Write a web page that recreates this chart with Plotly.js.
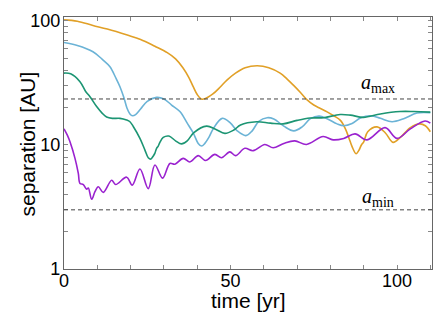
<!DOCTYPE html>
<html>
<head>
<meta charset="utf-8">
<script src="https://cdn.plot.ly/plotly-3.0.1.min.js"></script>
<style>html,body{margin:0;padding:0;background:#fff;}#chart{width:436px;height:318px;}</style>
</head>
<body>
<div id="chart"></div>
<script>
// Orange series
const tOrange = [0,4,8.7,13,19,23,27.3,31,33.5,35.7,37.5,38.8,40,41.2,42.3,44.7,47,49,51.5,54.4,58,61.5,64.9,67,68.8,71,73,75,77,79,81,83,84.5,85.5,86.5,87.7,88.5,89.3,90,91.2,94,96.5,98.8,101,104,106.8,108.5,110];
const aOrange = [102,99.5,92,86,77,71,62.5,55.5,49.5,42,35,29.5,25.5,23.5,23.6,25.8,29.5,33.5,38,42,43.5,42,38,34,30.5,26.5,23.1,21,19.7,18.5,17.2,15.8,13.5,11.5,9.7,8.5,9.0,10.0,10.6,12.8,14.0,12.5,10.5,11.5,13.8,14.8,14.3,12.8];
// Blue series
const tBlue = [0,4,8.7,11.5,13.8,15.5,16.8,18,18.9,19.8,20.6,21.5,23,25,27.8,30,32.3,34.8,37,38.8,40.3,41.3,42.3,43.5,44.8,47.5,50,52,54.6,56.5,58.5,61,63,66,69,71.5,74,76.6,79,82,84,86.5,89,92.2,95,98.5,102,106,110];
const aBlue = [67,63.5,56.5,49,42.8,35,29.5,24,19.9,17.8,17.2,17.6,19.5,22.5,24.2,23.5,21,18.6,15,12.5,10.3,9.8,10.3,11.5,13.5,16.4,15,13,11.9,13,15.5,16.6,16.2,14.2,13.0,14,16.3,17.1,16.3,14.8,14.3,14.9,16.5,17.2,16.4,15.4,16.3,18.1,18.2];
// Green series
const tGreen = [0,2,4.8,6.5,7.8,9.8,11.5,12.8,14.5,16.8,18.8,19.8,20.8,22.8,24.3,25.3,26.1,26.6,27,27.3,27.8,28.3,28.8,29.8,31.5,33.5,35.3,37,39,42.8,45.5,48.3,51,53,57.8,62,65.8,70,73.9,78,82.9,86,89.9,95,100.9,105,110];
const aGreen = [38,37.5,32.4,27,24.5,20.4,18,16.8,16.4,16.4,15.9,15.4,14.1,11.3,9.1,7.9,7.7,8.0,8.3,8.6,9.4,9.8,10.5,11.5,11.8,10.8,10.2,10.8,12.6,14.2,13.4,12.4,13.2,14.5,15.4,15.0,14.8,15.8,16.5,16.6,17.6,17.4,16.7,17.8,18.6,18.6,18.4];
// Purple series
const tPurple = [0,1,1.8,3.3,4.3,4.8,5.8,6.8,7.3,8.3,9.3,10.3,11.8,14.3,15.5,18.8,20.5,22.8,25.3,27.3,29.6,31.8,33.3,35.8,37.8,40.3,42.5,45.3,47.3,49.8,51.5,54.3,56.8,60.3,62.8,66,69.3,72.8,77.8,80.8,84,87.4,91,96.4,100,104,108.4,110];
const aPurple = [13.5,12,10.6,7.8,5.9,4.9,4.8,4.4,4.5,3.65,4.2,4.6,4.15,5.2,4.8,5.5,4.75,6.4,4.45,6.9,5.4,7.1,7.0,7.8,7.3,8.2,7.5,8.4,7.9,8.8,8.2,9.4,9.0,10.1,9.5,10.3,10.8,10.1,11.7,11.0,11.3,12.3,11.0,13.8,11.3,13.5,15.6,15.0];

const aMax = 23.5, aMin = 3.0;
const xMajor = [0,50,100];
const yMajor = [1,10,100];
const yMinor = [2,3,4,5,6,7,8,9,20,30,40,50,60,70,80,90];

const mk = (x,y,c)=>({x:x,y:y,type:'scatter',mode:'lines',line:{color:c,width:1.6,shape:'spline',smoothing:1.0},hoverinfo:'skip'});
const data = [
  mk(tOrange,aOrange,'#E1A027'),
  mk(tBlue,aBlue,'#6BB3D6'),
  mk(tGreen,aGreen,'#1C9573'),
  mk(tPurple,aPurple,'#9A22CF')
];
const fontSans = 'Liberation Sans, Arial, sans-serif';
const axisCommon = {showgrid:false,zeroline:false,showline:true,linecolor:'#666',linewidth:1.2,mirror:'ticks',ticks:'inside',ticklen:4,tickcolor:'#888',ticklabelstandoff:-5,tickfont:{family:fontSans,size:18,color:'#000'}};
const layout = {
  width:436,height:318,
  margin:{l:64,r:4,t:17,b:49},
  paper_bgcolor:'#fff',plot_bgcolor:'#fff',
  showlegend:false,
  xaxis:Object.assign({},axisCommon,{range:[0,110.5],tickmode:'array',tickvals:xMajor,
    minor:{dtick:10,ticks:'inside',ticklen:4,tickcolor:'#888',showgrid:false}}),
  yaxis:Object.assign({},axisCommon,{type:'log',range:[0,2.032],tickmode:'array',tickvals:yMajor,ticktext:['1','10','100'],ticklabelstandoff:-1,
    minor:{tickmode:'array',tickvals:yMinor,ticks:'inside',ticklen:4,tickcolor:'#888',showgrid:false}}),
  shapes:[
    {type:'line',xref:'paper',x0:0,x1:1,yref:'y',y0:aMax,y1:aMax,line:{color:'#444',width:1,dash:'4px,3px'}},
    {type:'line',xref:'paper',x0:0,x1:1,yref:'y',y0:aMin,y1:aMin,line:{color:'#444',width:1,dash:'4px,3px'}}
  ],
  annotations:[
    {x:94.3,y:Math.log10(31.6),xref:'x',yref:'y',text:'<i>a</i><sub>max</sub>',showarrow:false,font:{family:'Liberation Serif, Times New Roman, serif',size:20,color:'#000'}},
    {x:94.3,y:Math.log10(3.74),xref:'x',yref:'y',text:'<i>a</i><sub>min</sub>',showarrow:false,font:{family:'Liberation Serif, Times New Roman, serif',size:20,color:'#000'}},
    {x:-0.1005,y:0.494,xref:'paper',yref:'paper',xanchor:'center',yanchor:'middle',text:'separation [AU]',textangle:-90,showarrow:false,font:{family:fontSans,size:21,color:'#000'}},
    {x:0.5,y:-0.125,xref:'paper',yref:'paper',xanchor:'center',yanchor:'middle',text:'time [yr]',showarrow:false,font:{family:fontSans,size:21,color:'#000'}}
  ]
};
Plotly.newPlot('chart',data,layout,{staticPlot:true,displayModeBar:false});
</script>
</body>
</html>
